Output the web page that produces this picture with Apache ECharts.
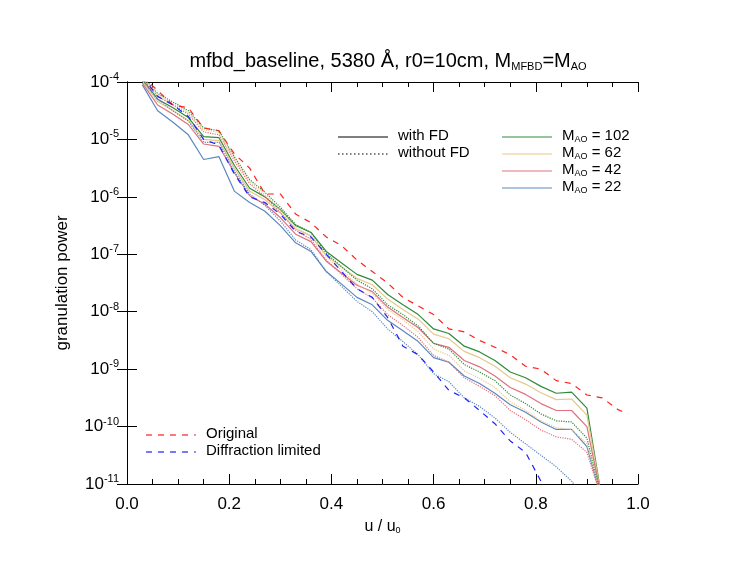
<!DOCTYPE html>
<html>
<head>
<meta charset="utf-8">
<script src="https://cdn.jsdelivr.net/npm/echarts@6/dist/echarts.min.js"></script>
<style>html,body{margin:0;background:#fff}#chart{width:747px;height:578px}</style>
</head>
<body>
<div id="chart"></div>
<script>
// u / u0 sample points
const u = [0.03,0.06,0.09,0.12,0.15,0.18,0.21,0.24,0.27,0.30,0.33,0.36,0.39,0.42,0.45,0.48,0.51,0.54,0.57,0.60,0.63,0.66,0.69,0.72,0.75,0.78,0.81,0.84,0.87,0.90,0.93];
// log10 of granulation power
const m102 = [-3.95,-4.3,-4.45,-4.62,-4.95,-4.97,-5.45,-5.85,-6.0,-6.22,-6.5,-6.62,-6.95,-7.15,-7.35,-7.45,-7.7,-7.88,-8.05,-8.3,-8.38,-8.6,-8.7,-8.85,-9.05,-9.15,-9.3,-9.42,-9.4,-9.68,-11.3];
const m62  = [-3.98,-4.34,-4.5,-4.67,-5.0,-5.02,-5.5,-5.9,-6.05,-6.28,-6.56,-6.68,-7.02,-7.22,-7.42,-7.53,-7.78,-7.96,-8.13,-8.39,-8.47,-8.69,-8.8,-8.95,-9.15,-9.26,-9.41,-9.53,-9.52,-9.8,-11.3];
const m42  = [-4.02,-4.4,-4.56,-4.74,-5.08,-5.12,-5.58,-5.98,-6.13,-6.36,-6.65,-6.78,-7.12,-7.33,-7.54,-7.65,-7.92,-8.1,-8.28,-8.55,-8.62,-8.85,-8.96,-9.12,-9.32,-9.44,-9.6,-9.72,-9.72,-10.0,-11.3];
const m22  = [-4.05,-4.5,-4.7,-4.92,-5.35,-5.3,-5.9,-6.1,-6.25,-6.5,-6.8,-6.95,-7.3,-7.52,-7.75,-7.88,-8.15,-8.33,-8.52,-8.8,-8.88,-9.12,-9.25,-9.42,-9.62,-9.75,-9.92,-10.05,-10.05,-10.35,-11.3];
const m102nf = [-3.9,-4.2,-4.35,-4.5,-4.8,-4.85,-5.3,-5.7,-5.92,-6.18,-6.48,-6.62,-6.98,-7.22,-7.45,-7.6,-7.88,-8.05,-8.25,-8.55,-8.65,-8.92,-9.05,-9.2,-9.45,-9.6,-9.78,-9.9,-9.92,-10.2,-11.3];
const m62nf  = [-3.92,-4.22,-4.38,-4.53,-4.83,-4.88,-5.33,-5.73,-5.96,-6.22,-6.53,-6.68,-7.04,-7.28,-7.52,-7.68,-7.96,-8.14,-8.35,-8.65,-8.76,-9.03,-9.16,-9.32,-9.57,-9.72,-9.9,-10.02,-10.05,-10.3,-11.3];
const m42nf  = [-3.94,-4.25,-4.4,-4.56,-4.87,-4.92,-5.37,-5.77,-6.0,-6.27,-6.58,-6.74,-7.1,-7.35,-7.6,-7.76,-8.05,-8.24,-8.45,-8.76,-8.88,-9.15,-9.3,-9.46,-9.72,-9.88,-10.06,-10.18,-10.22,-10.45,-11.3];
const m22nf  = [-3.98,-4.3,-4.5,-4.68,-5.05,-5.05,-5.55,-5.95,-6.15,-6.42,-6.75,-6.92,-7.3,-7.56,-7.82,-8.0,-8.3,-8.52,-8.75,-9.08,-9.22,-9.5,-9.65,-9.85,-10.1,-10.3,-10.5,-10.7,-10.95,-11.3,-11.5];
const uOrig = [0.03,0.06,0.09,0.12,0.15,0.18,0.21,0.24,0.27,0.30,0.33,0.36,0.39,0.42,0.45,0.48,0.51,0.54,0.57,0.60,0.63,0.66,0.69,0.72,0.75,0.78,0.81,0.84,0.87,0.90,0.93,0.96,0.98];
const orig = [-3.9,-4.15,-4.4,-4.45,-4.8,-4.85,-5.25,-5.5,-5.95,-5.95,-6.3,-6.45,-6.7,-6.85,-7.1,-7.3,-7.5,-7.75,-7.9,-8.05,-8.3,-8.35,-8.5,-8.62,-8.75,-8.95,-9.0,-9.2,-9.25,-9.45,-9.5,-9.7,-9.78];
const diff = [-3.9,-4.25,-4.4,-4.6,-5.0,-5.1,-5.6,-6.0,-6.1,-6.3,-6.6,-6.7,-7.0,-7.3,-7.6,-7.75,-8.1,-8.6,-8.75,-9.05,-9.37,-9.5,-9.72,-9.95,-10.25,-10.45,-10.95,-11.5];

function pts(xs, ys) { return ys.map((e, i) => [xs[i], Math.pow(10, e)]); }

const FONT = 'Liberation Sans';
const series = [
  { d: pts(u, m102), c: '#2e8b3a', t: 'solid' },
  { d: pts(u, m62), c: '#e6c88c', t: 'solid' },
  { d: pts(u, m42), c: '#e0707e', t: 'solid' },
  { d: pts(u, m22), c: '#5b88c0', t: 'solid' },
  { d: pts(u, m102nf), c: '#2e8b3a', t: 'dotted' },
  { d: pts(u, m62nf), c: '#e6c88c', t: 'dotted' },
  { d: pts(u, m42nf), c: '#e0707e', t: 'dotted' },
  { d: pts(u, m22nf), c: '#5b88c0', t: 'dotted' },
  { d: pts(uOrig, orig), c: '#ff2020', t: [6, 6] },
  { d: pts(uOrig, diff), c: '#2020ff', t: [6, 6] }
].map(s => ({
  type: 'line', data: s.d, showSymbol: false, silent: true, clip: true,
  lineStyle: { color: s.c, width: 1.2, type: s.t }
}));

const tickLbl = {
  fontFamily: FONT, fontSize: 17, color: '#000',
  rich: { b: { fontFamily: FONT, fontSize: 17 }, s: { fontFamily: FONT, fontSize: 11, verticalAlign: 'top', padding: [0, 0, 10, 0] } }
};

function legendLine(x, y, color, type, label, sub, rest) {
  const items = [{ type: 'line', shape: { x1: x, y1: y, x2: x + 50, y2: y }, style: { stroke: color, lineWidth: 1.2, lineDash: type } }];
  if (sub) {
    items.push({ type: 'text', left: x + 60, top: y - 9, style: { rich: { a: { fontFamily: FONT, fontSize: 15 }, s: { fontFamily: FONT, fontSize: 9, padding: [8, 0, 0, 0] } }, text: '{a|' + label + '}{s|' + sub + '}{a|' + rest + '}' } });
  } else {
    items.push({ type: 'text', left: x + 60, top: y - 9, style: { text: label, fontFamily: FONT, fontSize: 15, fill: '#000' } });
  }
  return items;
}

const chart = echarts.init(document.getElementById('chart'));
chart.setOption({
  animation: false,
  backgroundColor: '#fff',
  grid: { left: 127, right: 109, top: 82, bottom: 94 },
  xAxis: [{
    type: 'value', min: 0, max: 1, interval: 0.2,
    axisLine: { lineStyle: { color: '#000' } },
    axisTick: { inside: true, length: 10, lineStyle: { color: '#000' } },
    minorTick: { show: true, splitNumber: 4, length: 5, lineStyle: { color: '#000' } },
    splitLine: { show: false },
    axisLabel: { fontFamily: FONT, fontSize: 17, color: '#000', margin: 12, formatter: v => v.toFixed(1) },
    name: '{a|u / u}{s|0}', nameLocation: 'middle', nameGap: 34,
    nameTextStyle: { rich: { a: { fontFamily: FONT, fontSize: 16 }, s: { fontFamily: FONT, fontSize: 9, padding: [8, 0, 0, 0] } } }
  }, {
    type: 'value', min: 0, max: 1, interval: 0.2, position: 'top',
    axisLine: { lineStyle: { color: '#000' } },
    axisTick: { inside: true, length: 10, lineStyle: { color: '#000' } },
    minorTick: { show: true, splitNumber: 4, length: 5, lineStyle: { color: '#000' } },
    splitLine: { show: false }, axisLabel: { show: false }
  }],
  yAxis: [{
    type: 'log', min: 1e-11, max: 1e-4, logBase: 10,
    axisLine: { lineStyle: { color: '#000' } },
    axisTick: { inside: true, length: 10, lineStyle: { color: '#000' } },
    splitLine: { show: false },
    axisLabel: Object.assign({ margin: 8, formatter: v => '{b|10}{s|' + Math.round(Math.log10(v)) + '}' }, tickLbl),
    name: 'granulation power', nameLocation: 'middle', nameGap: 56,
    nameTextStyle: { fontFamily: FONT, fontSize: 17, color: '#000' }
  }, {
    type: 'log', min: 1e-11, max: 1e-4, logBase: 10, position: 'right',
    axisLine: { lineStyle: { color: '#000' } },
    axisTick: { inside: true, length: 10, lineStyle: { color: '#000' } },
    splitLine: { show: false }, axisLabel: { show: false }
  }],
  title: {
    text: '{a|mfbd_baseline, 5380 Å, r0=10cm, M}{s|MFBD}{a|=M}{s|AO}',
    left: 383, top: 46, textAlign: 'center',
    textStyle: { rich: { a: { fontFamily: FONT, fontSize: 20, fontWeight: 'normal', color: '#000' }, s: { fontFamily: FONT, fontSize: 11, fontWeight: 'normal', color: '#000', padding: [10, 0, 0, 0] } } }
  },
  graphic: [].concat(
    legendLine(338, 137, '#000', null, 'with FD'),
    legendLine(338, 154, '#000', [1.5, 2.5], 'without FD'),
    legendLine(502, 137, '#2e8b3a', null, 'M', 'AO', ' = 102'),
    legendLine(502, 154, '#e6c88c', null, 'M', 'AO', ' = 62'),
    legendLine(502, 171, '#e0707e', null, 'M', 'AO', ' = 42'),
    legendLine(502, 188, '#5b88c0', null, 'M', 'AO', ' = 22'),
    legendLine(146, 435, '#ff2020', [6, 6], 'Original'),
    legendLine(146, 452, '#2020ff', [6, 6], 'Diffraction limited')
  ),
  series: series
});
</script>
</body>
</html>
